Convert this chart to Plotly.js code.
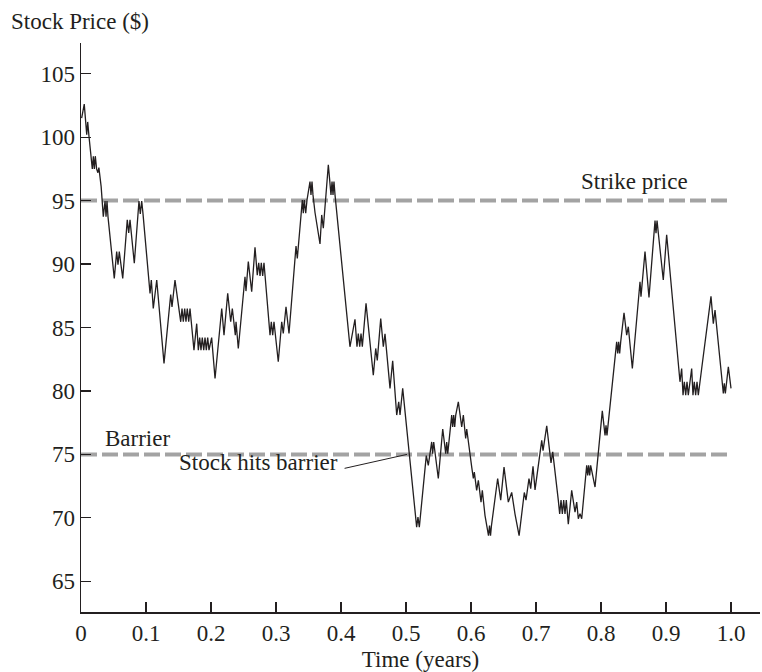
<!DOCTYPE html>
<html>
<head>
<meta charset="utf-8">
<script src="https://cdn.plot.ly/plotly-3.0.1.min.js"></script>
<style>html,body{margin:0;padding:0;background:#fff;}#chart{width:762px;height:672px;}</style>
</head>
<body>
<div id="chart"></div>
<script>
// Stock price path (time in years, price in $)
const timeYears = [0.001,0.005,0.0088,0.0103,0.0123,0.0174,0.019,0.0205,0.022,0.024,0.026,0.0275,0.031,0.0343,0.037,0.0385,0.040,0.0415,0.0512,0.0549,0.0569,0.0589,0.0642,0.0712,0.0734,0.0754,0.082,0.0892,0.0912,0.0934,0.0954,0.1062,0.1082,0.1112,0.1165,0.1277,0.138,0.14,0.1446,0.1472,0.1534,0.1554,0.1574,0.1595,0.1615,0.1635,0.1657,0.1677,0.1697,0.1738,0.178,0.1805,0.1826,0.1846,0.1866,0.1888,0.1908,0.1928,0.1949,0.1969,0.201,0.2062,0.2165,0.22,0.2257,0.2303,0.2328,0.2374,0.2385,0.242,0.2523,0.2538,0.2574,0.2626,0.2677,0.2712,0.2734,0.2754,0.2774,0.2795,0.2815,0.2908,0.2928,0.2949,0.2969,0.299,0.3035,0.3088,0.3112,0.3154,0.32,0.3308,0.3328,0.3405,0.342,0.3435,0.3457,0.3477,0.3523,0.3538,0.3554,0.3569,0.36,0.3677,0.3703,0.3728,0.3805,0.3846,0.3862,0.3877,0.3892,0.3908,0.4138,0.4215,0.4246,0.4266,0.4288,0.4308,0.4328,0.4385,0.4446,0.4497,0.4534,0.4558,0.4611,0.4651,0.4677,0.4754,0.4795,0.4857,0.4888,0.4908,0.4949,0.5164,0.5184,0.5205,0.5312,0.5343,0.5395,0.541,0.5426,0.5497,0.5565,0.5611,0.5626,0.5642,0.5703,0.5718,0.5734,0.5749,0.5765,0.5805,0.5857,0.5882,0.5918,0.5934,0.6011,0.6036,0.6051,0.6087,0.6113,0.6154,0.6174,0.6215,0.6269,0.6285,0.63,0.6315,0.641,0.6457,0.6508,0.6574,0.6626,0.6677,0.674,0.682,0.6846,0.6892,0.6918,0.6954,0.6985,0.7035,0.7088,0.7108,0.7128,0.7165,0.7231,0.7257,0.7343,0.7364,0.7385,0.7405,0.7426,0.7446,0.7466,0.7497,0.7549,0.7574,0.76,0.7626,0.7651,0.7677,0.7703,0.778,0.7795,0.781,0.7826,0.7841,0.7908,0.802,0.8062,0.8077,0.8092,0.8241,0.8257,0.8272,0.8287,0.8303,0.8354,0.8395,0.842,0.8482,0.86,0.8615,0.8677,0.8738,0.8831,0.8846,0.8862,0.8882,0.8958,0.901,0.9215,0.9241,0.9262,0.9282,0.9303,0.9323,0.9343,0.9395,0.9415,0.9435,0.9456,0.9477,0.9497,0.9549,0.9692,0.9728,0.9754,0.9882,0.9897,0.9913,0.9959,1.0];
const stockPrice = [101.5,102.6,100.2,101.2,100.05,97.5,98.5,97.5,98.5,97.5,97.2,97.6,96.1,93.74,94.97,93.74,94.97,93.74,88.87,90.98,89.95,90.98,88.87,93.48,92.45,93.48,90.06,94.97,93.95,94.97,93.95,87.69,88.74,86.5,88.74,82.17,87.6,86.63,88.74,87.69,85.45,86.5,85.45,86.5,85.45,86.5,85.45,86.5,85.45,83.22,85.3,83.22,84.2,83.22,84.2,83.22,84.2,83.22,84.2,83.22,84.2,80.98,86.5,84.4,87.69,85.45,86.5,84.4,85.45,83.35,89.0,87.87,90.19,87.82,91.32,89.13,90.1,89.06,90.1,89.06,90.1,84.4,85.45,84.4,85.45,84.4,82.3,85.45,84.53,86.63,84.53,91.42,90.45,95.05,94.0,95.05,94.0,95.05,96.5,95.45,96.5,95.45,94.06,91.58,93.87,92.82,97.82,95.45,96.5,95.45,96.5,95.45,83.48,85.65,83.48,84.53,83.48,84.53,83.48,86.9,83.48,81.24,83.35,82.4,85.7,83.48,84.5,80.2,82.37,78.1,79.14,78.1,80.2,69.27,70.06,69.27,74.9,74.14,75.98,75.06,75.98,73.1,77.0,75.06,75.98,75.06,78.1,77.16,78.1,77.16,78.1,79.14,77.16,78.1,76.25,77.0,74.0,73.1,73.6,72.17,72.96,71.24,72.17,70.2,68.6,69.4,68.6,69.4,73.1,71.4,74.0,71.24,72.0,70.3,68.6,72.0,71.4,73.1,72.3,74.06,72.2,74.0,76.1,75.3,76.1,77.25,74.32,75.2,71.4,70.3,71.4,70.3,71.4,70.3,71.4,69.5,72.17,71.24,70.45,71.24,69.93,70.33,69.93,74.14,73.35,74.14,73.35,74.14,72.43,78.43,76.5,77.3,76.5,83.87,82.95,83.87,82.95,83.87,86.16,84.4,85.06,81.77,88.61,87.43,90.98,87.37,93.42,92.43,93.42,92.43,88.74,92.3,80.72,81.77,79.66,80.72,79.66,80.72,79.66,81.77,79.66,80.72,79.66,80.72,79.66,81.77,87.45,85.3,86.37,79.8,80.6,79.8,81.9,80.2];

const levelTimes = [0, 1.0];
const strikePrice = 95;
const barrierPrice = 75;

const xTickVals = [0,0.1,0.2,0.3,0.4,0.5,0.6,0.7,0.8,0.9,1.0];
const xTickText = ["0","0.1","0.2","0.3","0.4","0.5","0.6","0.7","0.8","0.9","1.0"];
const yTickVals = [65,70,75,80,85,90,95,100,105];
const yTickText = ["65","70","75","80","85","90","95","100","105"];

const ink = '#231f20';
const grey = '#a3a3a3';
const FONT = 'Liberation Serif, Times New Roman, serif';
const FS = 23;

const traces = [
  {x: levelTimes, y: [strikePrice, strikePrice], mode: 'lines', line: {color: grey, width: 4, dash: '16px,5px'}, hoverinfo: 'skip', showlegend: false},
  {x: levelTimes, y: [barrierPrice, barrierPrice], mode: 'lines', line: {color: grey, width: 4, dash: '16px,5px'}, hoverinfo: 'skip', showlegend: false},
  {x: timeYears, y: stockPrice, mode: 'lines', line: {color: ink, width: 1.3}, showlegend: false}
];

const layout = {
  width: 762, height: 672,
  margin: {l: 81, r: 2, t: 43, b: 60},
  paper_bgcolor: '#fff', plot_bgcolor: '#fff',
  font: {family: FONT, size: FS, color: ink},
  showlegend: false,
  xaxis: {
    range: [0, 1.0446], showgrid: false, zeroline: false,
    showline: true, linecolor: ink, linewidth: 1.5,
    ticks: 'inside', ticklen: 10, tickwidth: 1.3, tickcolor: ink,
    tickvals: xTickVals, ticktext: xTickText,
    tickfont: {family: FONT, size: FS, color: ink},
    title: {text: 'Time (years)', font: {family: FONT, size: FS, color: ink}, standoff: 6}
  },
  yaxis: {
    range: [62.58, 107.42], showgrid: false, zeroline: false,
    showline: true, linecolor: ink, linewidth: 1.5,
    ticks: 'inside', ticklen: 10, tickwidth: 1.3, tickcolor: ink,
    tickvals: yTickVals, ticktext: yTickText,
    tickfont: {family: FONT, size: FS, color: ink}
  },
  annotations: [
    {xref: 'paper', yref: 'paper', x: -0.1062, y: 1.0374, xanchor: 'left', yanchor: 'middle', text: 'Stock Price ($)', showarrow: false, font: {family: FONT, size: FS, color: ink}},
    {xref: 'x', yref: 'y', x: 0.7660, y: 96.5, xanchor: 'left', yanchor: 'middle', text: 'Strike price', showarrow: false, font: {family: FONT, size: FS, color: ink}},
    {xref: 'x', yref: 'y', x: 0.034, y: 76.27, xanchor: 'left', yanchor: 'middle', text: 'Barrier', showarrow: false, font: {family: FONT, size: FS, color: ink}},
    {xref: 'x', yref: 'y', x: 0.147, y: 74.38, xanchor: 'left', yanchor: 'middle', text: 'Stock hits barrier', showarrow: false, font: {family: FONT, size: FS, color: ink}}
  ],
  shapes: [
    {type: 'line', xref: 'x', yref: 'y', x0: 0.4055, y0: 73.9, x1: 0.5015, y1: 75.0, line: {color: ink, width: 1}}
  ]
};

Plotly.newPlot('chart', traces, layout, {displayModeBar: false, staticPlot: true});
</script>
</body>
</html>
